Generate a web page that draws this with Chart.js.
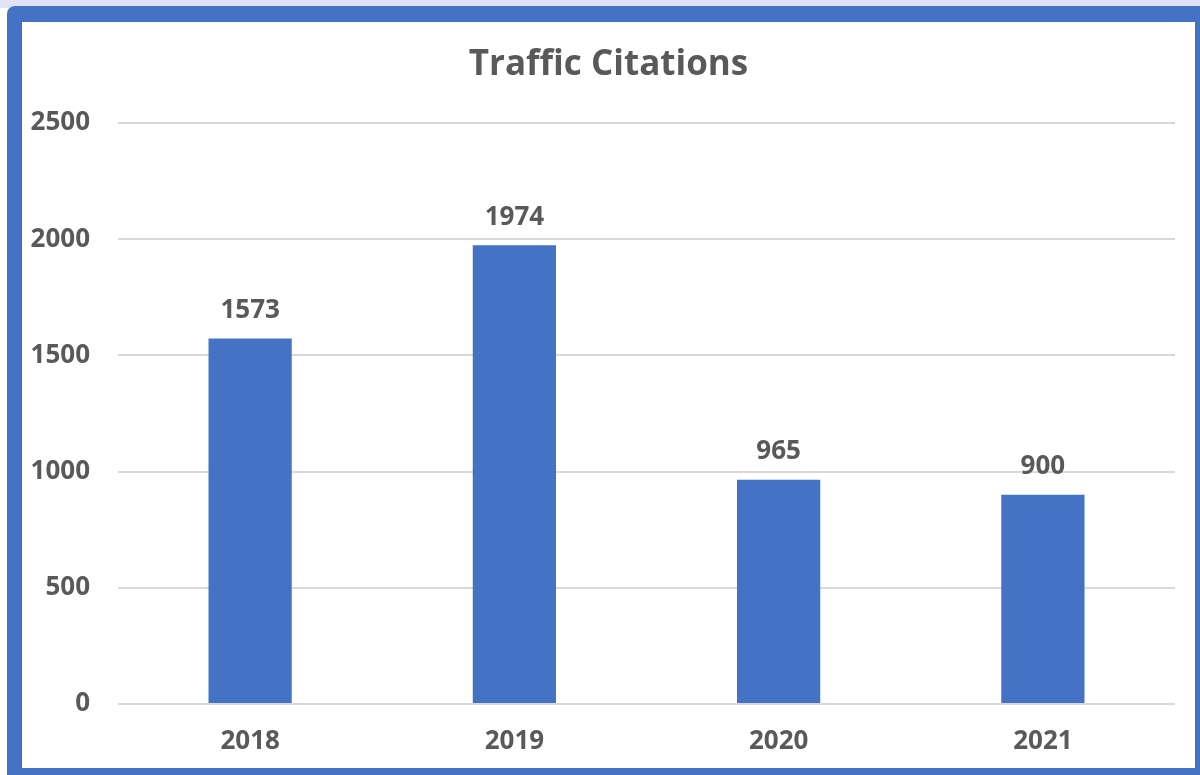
<!DOCTYPE html>
<html>
<head>
<meta charset="utf-8">
<script src="https://cdn.jsdelivr.net/npm/chart.js@4.4.0/dist/chart.umd.min.js"></script>
<style>
  html, body { margin:0; padding:0; width:1200px; height:775px; overflow:hidden; background:#fff; }
  #strip { position:absolute; left:0; top:0; width:1200px; height:8px; background:#e2e2f6; }
  #frame { position:absolute; left:7px; top:6px; width:1200px; height:769px; background:#4472c4; border-top-left-radius:8px; }
  #inner { position:absolute; left:22px; top:22px; width:1173px; height:746px; background:#fff; }
</style>
</head>
<body>
<div id="strip"></div>
<div id="frame"></div>
<div id="inner"><canvas id="chart" width="1173" height="746"></canvas></div>
<script>
// ---------------------------
// DATA
// ---------------------------
const years = ["2018", "2019", "2020", "2021"];
const citations = [1573, 1974, 965, 900];
const yTicks = [0, 500, 1000, 1500, 2000, 2500];

const GRAY = "#595959";
const FONT = "'Open Sans', 'Liberation Sans', sans-serif";

// value labels above each bar
const barLabels = {
  id: "barLabels",
  afterDatasetsDraw(chart){
    const ctx = chart.ctx;
    const meta = chart.getDatasetMeta(0);
    ctx.save();
    ctx.fillStyle = GRAY;
    ctx.font = `bold 26px ${FONT}`;
    ctx.textAlign = "center";
    ctx.textBaseline = "middle";
    meta.data.forEach((bar, i)=>{
      ctx.fillText(String(citations[i]), bar.x, bar.y - 28);
    });
    ctx.restore();
  }
};

new Chart(document.getElementById("chart"), {
  type: "bar",
  data: {
    labels: years,
    datasets: [{
      data: citations,
      backgroundColor: "#4472c4",
      categoryPercentage: 1,
      barPercentage: 0.315
    }]
  },
  options: {
    responsive: false,
    animation: false,
    layout: { padding: 0 },
    plugins: {
      legend: { display: false },
      tooltip: { enabled: false },
      title: {
        display: true,
        text: "Traffic Citations",
        color: GRAY,
        font: { family: FONT, size: 35, weight: "bold" },
        padding: { top: 22, bottom: 37 }
      }
    },
    scales: {
      x: {
        grid: { display: false, drawTicks: false },
        border: { display: false },
        ticks: { color: GRAY, font: { family: FONT, size: 26, weight: "bold" }, padding: 22 },
        afterFit(s){ s.height = 64; }
      },
      y: {
        min: 0,
        max: 2500,
        afterBuildTicks(s){ s.ticks = yTicks.map(v=>({ value: v })); },
        grid: { color: "#d9d9d9", lineWidth: 2, drawTicks: false },
        border: { display: false },
        ticks: {
          color: GRAY,
          font: { family: FONT, size: 26, weight: "bold" },
          padding: 28,
          callback: (v)=>String(v)
        },
        afterFit(s){ s.width = 96; }
      },
      // empty right-hand spacer so the title stays centred on the whole panel
      spacer: {
        type: "linear",
        position: "right",
        grid: { display: false, drawTicks: false },
        border: { display: false },
        ticks: { display: false },
        afterFit(s){ s.width = 20; }
      }
    }
  },
  plugins: [barLabels]
});
</script>
</body>
</html>
